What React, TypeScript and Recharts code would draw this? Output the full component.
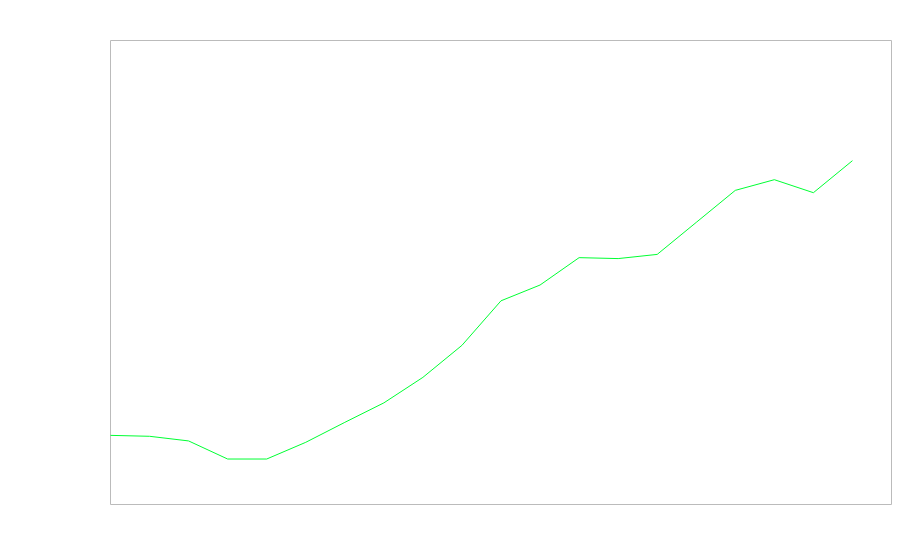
import { LineChart, Line, XAxis, YAxis, CartesianGrid } from "recharts";

// x positions (index) and series values
const xs = [0, 1, 2, 3, 4, 5, 6, 7, 8, 9, 10, 11, 12, 13, 14, 15, 16, 17, 18, 19];
const values = [14.9, 14.7, 13.7, 9.8, 9.8, 13.4, 17.7, 21.9, 27.4, 34.3, 43.9, 47.3, 53.2, 53.0, 53.9, 60.8, 67.7, 70.0, 67.2, 74.1];

const data = xs.map((x, i) => ({ x, value: values[i] }));

export default function App() {
  return (
    <LineChart
      width={892}
      height={544}
      data={data}
      margin={{ top: 32.5, right: 8.5, bottom: 47.5, left: 102.5 }}
      style={{ overflow: "visible" }}
    >
      {/* grid lines only at the domain ends -> grey frame */}
      <CartesianGrid stroke="#bbbbbb" strokeWidth={1} />
      <XAxis dataKey="x" type="number" domain={[0, 20]} ticks={[0, 20]} hide />
      <YAxis type="number" domain={[0, 100]} ticks={[0, 100]} hide />
      <Line
        type="linear"
        dataKey="value"
        stroke="#00ff33"
        strokeWidth={1}
        dot={false}
        activeDot={false}
        isAnimationActive={false}
      />
    </LineChart>
  );
}
